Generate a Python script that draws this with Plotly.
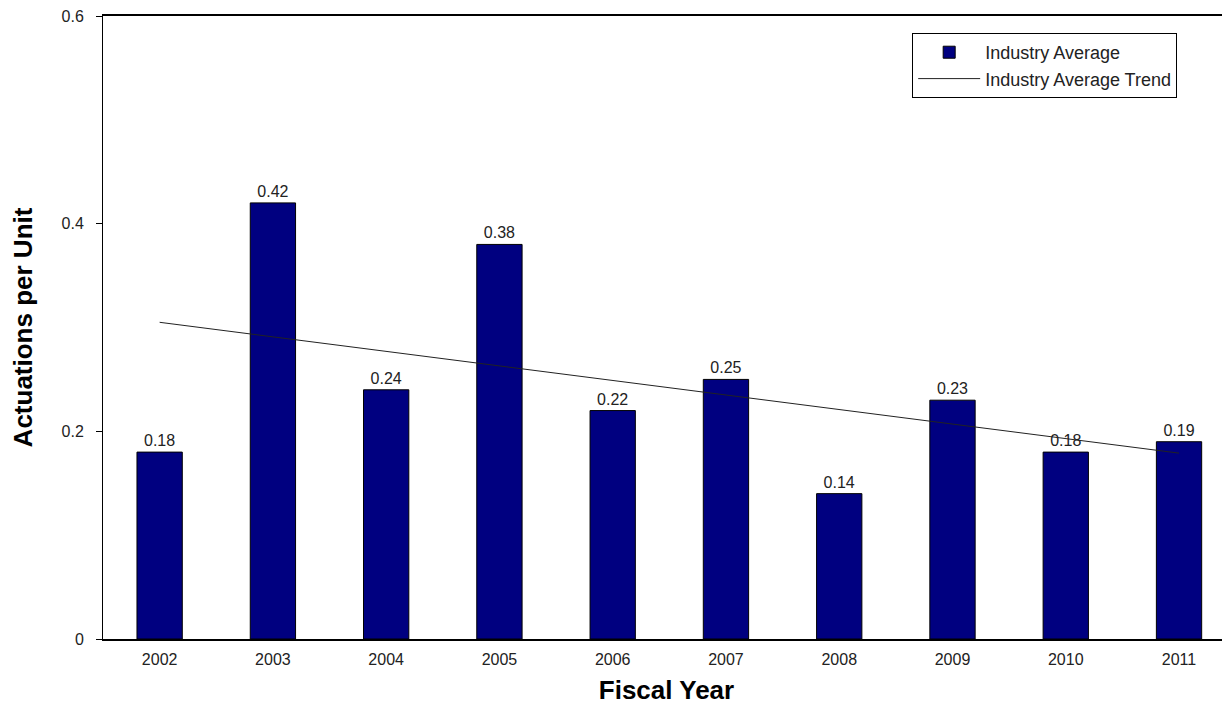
import plotly.graph_objects as go

years = ["2002", "2003", "2004", "2005", "2006", "2007", "2008", "2009", "2010", "2011"]
industry_avg = [0.18, 0.42, 0.24, 0.38, 0.22, 0.25, 0.14, 0.23, 0.18, 0.19]
trend_years = ["2002", "2011"]
trend_vals = [0.305, 0.179]
y_ticks = [0, 0.2, 0.4, 0.6]
y_tick_text = ["0", "0.2", "0.4", "0.6"]

fig = go.Figure()
fig.add_trace(go.Bar(
    x=years, y=industry_avg, name="Industry Average",
    marker=dict(color="#000080", line=dict(color="black", width=1)),
    width=0.4,
    text=[f"{v:.2f}" for v in industry_avg], textposition="outside",
    textfont=dict(family="Liberation Sans, Arial", size=16, color="#222222"),
    cliponaxis=False,
))
fig.add_trace(go.Scatter(
    x=trend_years, y=trend_vals, mode="lines", name="Industry Average Trend",
    line=dict(color="#222222", width=1),
))

fig.update_layout(
    width=1222, height=700,
    margin=dict(l=95, r=0, t=8, b=69),
    paper_bgcolor="white", plot_bgcolor="white",
    font=dict(family="Liberation Sans, Arial", size=16, color="#222222"),
    showlegend=True,
    legend=dict(
        x=0.718, y=0.9727, xanchor="left", yanchor="top",
        bordercolor="black", borderwidth=1, bgcolor="white",
        font=dict(size=18, color="#222222"),
        itemwidth=62,
        entrywidth=290, entrywidthmode="pixels",
        tracegroupgap=2,
    ),
    xaxis=dict(
        type="category", range=[-0.5, 9.45],
        showline=True, linecolor="black", linewidth=2, mirror=True,
        ticks="", showgrid=False,
        tickfont=dict(size=16), ticklabelstandoff=5,
        title=dict(text="<b>Fiscal Year</b>", font=dict(size=26, color="black"), standoff=14),
    ),
    yaxis=dict(
        range=[0, 0.6], tickvals=y_ticks, ticktext=y_tick_text,
        showline=True, linecolor="black", linewidth=1,
        ticks="outside", ticklen=6, tickcolor="black",
        showgrid=False, zeroline=False,
        tickfont=dict(size=16), ticklabelstandoff=9,
        ticklabeloverflow="allow",
        title=dict(text="<b>Actuations per Unit</b>", font=dict(size=26, color="black"), standoff=23),
    ),
)

fig.write_html("out.html")
